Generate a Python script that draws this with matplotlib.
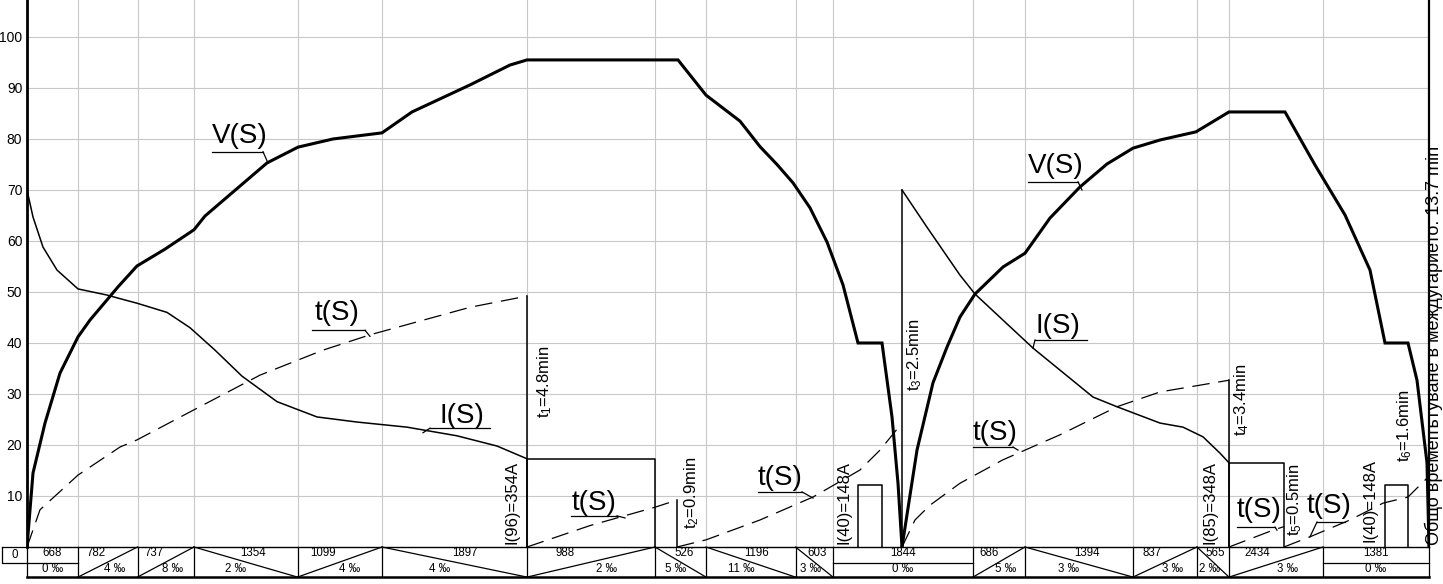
import matplotlib.pyplot as plt

plt.rcParams['font.family'] = ['Liberation Sans', 'DejaVu Sans']
plt.rcParams['mathtext.default'] = 'regular'

# track profile: section length (m), gradient (per mille), slope direction
seg_len = [668, 782, 737, 1354, 1099, 1897, 988, 526, 1196, 603,
           1844, 686, 1394, 837, 565, 2434, 1381]
seg_grad = [0, 4, 8, 2, 4, 4, 2, 5, 11, 3, 0, 5, 3, 3, 2, 3, 0]
seg_dir = [0, 1, 1, -1, 1, -1, 1, -1, -1, -1, 0, 1, -1, 1, -1, 1, 0]
# section borders along the drawing S axis
seg_edges = [0, 51, 110.5, 167, 270.5, 355, 500, 628, 679, 768.5, 806,
             946, 998, 1106, 1170, 1202, 1296, 1402]

# V(S), km/h
v1_s = [0, 6, 18, 33, 51, 63, 91, 110, 138, 167, 178, 240, 271, 306, 355,
        385, 443, 483, 500, 651, 679, 713, 733, 750, 766, 783, 800, 816, 831,
        855, 865, 871, 875]
v1_v = [0, 14.5, 24.3, 34.1, 41.2, 44.5, 51.0, 55.1, 58.4, 62.2, 64.9, 75.3,
        78.4, 80.0, 81.2, 85.3, 90.6, 94.5, 95.5, 95.5, 88.6, 83.5, 78.5,
        75.0, 71.4, 66.5, 59.8, 51.4, 40.0, 40.0, 25.5, 12.5, 0]
v2_s = [875, 890, 906, 920, 933, 948, 976, 998, 1023, 1053, 1080, 1106,
        1133, 1169, 1202, 1258, 1288, 1318, 1343, 1358, 1381, 1390, 1400, 1402]
v2_v = [0, 19.0, 32.2, 39.2, 45.1, 49.6, 54.9, 57.6, 64.5, 70.6, 75.1, 78.2,
        79.8, 81.4, 85.3, 85.3, 74.9, 65.1, 54.3, 40.0, 40.0, 32.7, 16.5, 0]

# I(S), x10 A
i1_s = [0, 6, 16, 30, 51, 80, 91, 110, 140, 163, 188, 215, 250, 290, 330,
        380, 430, 470, 500]
i1_i = [70, 64.7, 58.8, 54.3, 50.6, 49.4, 48.8, 47.8, 46.0, 43.0, 38.6, 33.5,
        28.5, 25.5, 24.5, 23.5, 21.8, 19.8, 17.3]
i2_s = [875, 900, 933, 948, 1006, 1066, 1090, 1133, 1156, 1176, 1193, 1202]
i2_i = [70, 62.7, 53.3, 49.6, 39.0, 29.4, 27.5, 24.3, 23.5, 21.6, 18.4, 16.5]

# t(S), min (scaled)
t1_s = [0, 13, 51, 93, 110, 167, 233, 296, 343, 393, 443, 500]
t1_t = [0, 7.3, 14.1, 19.6, 21.0, 26.9, 33.7, 38.6, 41.6, 44.3, 47.0, 49.2]
t2_s = [500, 563, 628, 650]
t2_t = [0, 4.2, 7.8, 9.2]
t3_s = [650, 679, 733, 786, 833, 853, 875]
t3_t = [0, 1.4, 5.3, 9.8, 15.1, 19.0, 24.3]
t4_s = [875, 888, 903, 933, 976, 1033, 1090, 1133, 1202]
t4_t = [0, 5.3, 8.2, 12.5, 17.1, 22.0, 27.5, 30.4, 32.7]
t5_s = [1202, 1246, 1257]
t5_t = [0, 3.3, 4.0]
t6_s = [1257, 1283, 1323, 1356, 1381, 1400, 1403]
t6_t = [0, 2.0, 5.3, 8.6, 9.8, 13.5, 15.0]

# constant-current blocks: start, end, level
blocks = [(500, 628, 17.3), (831, 855, 12.2), (1202, 1257, 16.5), (1358, 1381, 12.2)]
# time marks: position, height
t_marks = [(500, 49.2), (650, 9.2), (875, 70.0), (1202, 32.7)]

fig = plt.figure(figsize=(14.43, 5.84), dpi=100)
ax = fig.add_axes([27 / 1443, 37 / 584, 1402 / 1443, 547 / 584])
ax.set_xlim(0, 1402)
ax.set_ylim(0, 107.25)

ax.set_yticks(range(10, 101, 10))
ax.set_xticks(seg_edges)
ax.set_xticklabels([])
ax.tick_params(axis='both', length=0, labelsize=10, pad=3.4)
ax.grid(True, color='#c8c8c8', linewidth=0.8)
ax.set_axisbelow(True)
ax.spines['top'].set_visible(False)
ax.spines['left'].set_linewidth(2.0)
ax.spines['right'].set_linewidth(1.6)
ax.spines['bottom'].set_linewidth(1.0)

# curves
ax.plot(v1_s, v1_v, color='black', lw=2.2, solid_joinstyle='miter')
ax.plot(v2_s, v2_v, color='black', lw=2.2, solid_joinstyle='miter')
ax.plot(i1_s, i1_i, color='black', lw=1.1)
ax.plot(i2_s, i2_i, color='black', lw=1.1)
for ts, tt in [(t1_s, t1_t), (t2_s, t2_t), (t3_s, t3_t),
               (t4_s, t4_t), (t5_s, t5_t), (t6_s, t6_t)]:
    ax.plot(ts, tt, color='black', lw=0.9, dashes=(14, 7))

for x0, x1, lev in blocks:
    ax.plot([x0, x0, x1, x1], [0, lev, lev, 0], color='black', lw=1.1)
for xm, hm in t_marks:
    ax.plot([xm, xm], [0, hm], color='black', lw=1.1)


def curve_label(text, x, y, ux0, ux1, uy, px, py, lead_left=False):
    ax.text(x, y, text, fontsize=20, ha='left', va='baseline')
    ax.plot([ux0, ux1], [uy, uy], color='black', lw=0.9)
    xs = ux0 if lead_left else ux1
    ax.plot([xs, px], [uy, py], color='black', lw=0.9)


curve_label('V(S)', 185, 79.2, 185, 236, 77.5, 241, 75.3)
curve_label('t(S)', 288, 44.5, 285, 338, 42.5, 343, 41.3)
curve_label('I(S)', 413, 24.3, 403, 463, 23.3, 396, 22.4, lead_left=True)
curve_label('t(S)', 545, 7.3, 544, 590, 6.1, 598, 5.7)
curve_label('t(S)', 731, 12.2, 731, 775, 10.8, 786, 9.6)
curve_label('V(S)', 1001, 73.3, 1001, 1051, 71.6, 1055, 70.0)
curve_label('I(S)', 1008, 42.0, 1008, 1060, 40.6, 1006, 39.0, lead_left=True)
curve_label('t(S)', 946, 21.0, 946, 986, 19.6, 991, 19.0)
curve_label('t(S)', 1210, 5.9, 1210, 1248, 3.9, 1250, 3.3)
curve_label('t(S)', 1280, 6.7, 1290, 1318, 4.9, 1283, 2.0, lead_left=True)

# vertical annotations
notes = [
    ('I(96)=354A', 485, 8.8), ('t$_1$=4.8min', 518, 32.4),
    ('t$_2$=0.9min', 665, 10.6), ('I(40)=148A', 817, 8.8),
    ('t$_3$=2.5min', 888, 37.6), ('I(85)=348A', 1183, 8.8),
    ('t$_4$=3.4min', 1215, 28.8), ('t$_5$=0.5min', 1268, 9.2),
    ('I(40)=148A', 1343, 9.2), ('t$_6$=1.6min', 1378, 23.7),
]
for txt, x, y in notes:
    ax.text(x, y, txt, fontsize=12, rotation=90, ha='center', va='center')

ax.text(1412, 0.4, 'Общо времепътуване в междугарието: 13.7 min', fontsize=13,
        rotation=90, rotation_mode='anchor', ha='left', va='baseline',
        clip_on=False)

# track profile strip under the chart
y_top, y_mid, y_bot = 0, -3.1, -5.9
k = dict(color='black', lw=0.9, clip_on=False)
ax.plot([-25, 0], [y_top, y_top], **k)
ax.plot([-25, -25, 0], [y_top, y_mid, y_mid], **k)
ax.text(-12.5, -1.5, '0', fontsize=8.3, ha='center', va='center')
ax.plot([0, 1402], [y_bot, y_bot], color='black', lw=1.8, clip_on=False)
for e in seg_edges:
    ax.plot([e, e], [y_top, y_bot], **k)
for n in range(len(seg_len)):
    a, b = seg_edges[n], seg_edges[n + 1]
    w = b - a
    d = seg_dir[n]
    ltxt = str(seg_len[n])
    gtxt = f'{seg_grad[n]} ‰'
    if d == 0:
        ax.plot([a, b], [y_mid, y_mid], **k)
        lx, gx = a + 0.5 * w, a + 0.5 * w
    elif d > 0:
        ax.plot([a, b], [y_bot, y_top], **k)
        lx = max(a + 0.3 * w, a + 11)
        gx = min(a + 0.62 * w, b - 11)
    else:
        ax.plot([a, b], [y_top, y_bot], **k)
        lx = min(a + 0.57 * w, b - 11)
        gx = max(a + 0.4 * w, a + 9)
    ax.text(lx, -1.25, ltxt, fontsize=8.3, ha='center', va='center', clip_on=False)
    ax.text(gx, -4.35, gtxt, fontsize=8.3, ha='center', va='center', clip_on=False)

fig.savefig('out.png', dpi=100)
